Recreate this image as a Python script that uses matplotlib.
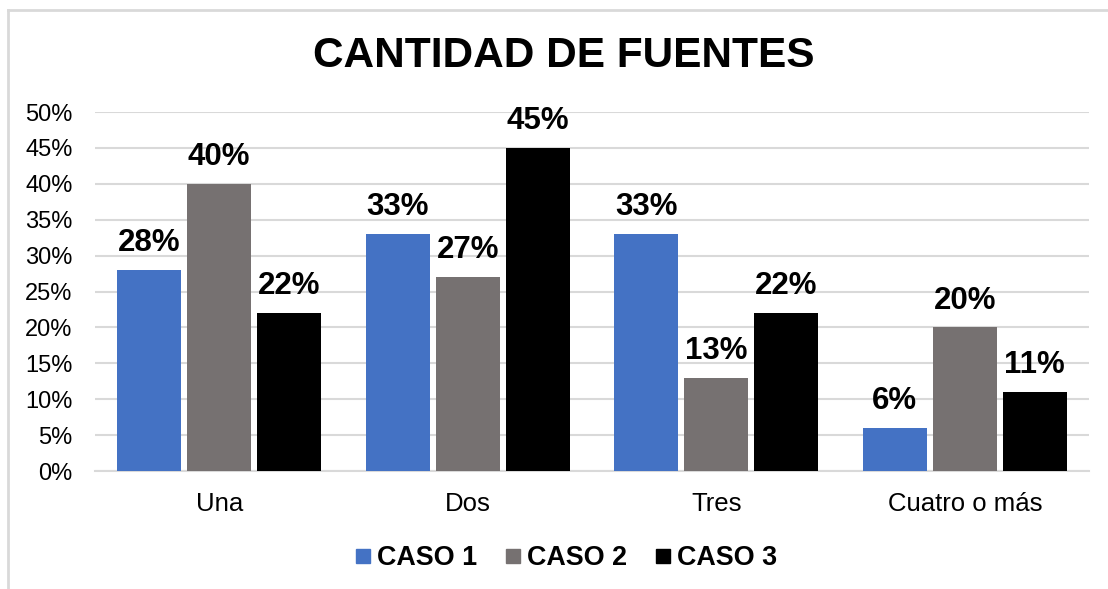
import numpy as np
import matplotlib
matplotlib.use('Agg')
import matplotlib.pyplot as plt
from matplotlib.lines import Line2D

plt.rcParams['font.family'] = ['Liberation Sans', 'DejaVu Sans']

categorias = ["Una", "Dos", "Tres", "Cuatro o más"]
series = ["CASO 1", "CASO 2", "CASO 3"]
caso1 = [28, 33, 33, 6]
caso2 = [40, 27, 13, 20]
caso3 = [22, 45, 22, 11]
colores = ["#4472C4", "#767171", "#000000"]
titulo = "CANTIDAD DE FUENTES"

fig = plt.figure(figsize=(11.08, 5.89), dpi=100)
ax = fig.add_axes([0.0857, 0.2003, 0.8972, 0.6095])

x = np.arange(len(categorias))
ancho = 0.257
paso = 0.282
grid_col = "#D9D9D9"

for i, (vals, nombre) in enumerate(zip([caso1, caso2, caso3], series)):
    pos = x + (i - 1) * paso
    ax.bar(pos, vals, width=ancho, color=colores[i], label=nombre, zorder=3)
    for xp, v in zip(pos, vals):
        ax.annotate(f"{v}%", (xp, v), xytext=(0, 13.5), textcoords="offset points",
                    ha="center", va="baseline", fontsize=22.5, fontweight="bold")

ax.set_ylim(0, 50)
ax.set_xlim(-0.5, len(categorias) - 0.5)
ax.set_yticks(np.arange(0, 51, 5))
ax.set_yticklabels([f"{t}%" for t in range(0, 51, 5)], fontsize=17)
ax.set_xticks(x)
ax.set_xticklabels(categorias, fontsize=18.5)
ax.tick_params(axis="both", length=0)
ax.tick_params(axis="y", pad=16)
ax.tick_params(axis="x", pad=15)
ax.yaxis.grid(True, color=grid_col, linewidth=1.5, zorder=0)
for s in ["top", "right", "left"]:
    ax.spines[s].set_visible(False)
ax.spines["bottom"].set_color(grid_col)
ax.spines["bottom"].set_linewidth(1.5)

fig.text(0.509, 0.905, titulo, ha="center", va="center", fontsize=30.5, fontweight="bold")

handles = [Line2D([], [], marker="s", linestyle="none", markersize=10.5,
                  markerfacecolor=c, markeredgecolor=c) for c in colores]
leg = fig.legend(handles, series, loc="center", bbox_to_anchor=(0.511, 0.052), ncol=3,
                 frameon=False, handlelength=0.6, handletextpad=0.2, columnspacing=1.05,
                 prop={"size": 19.4, "weight": "bold"})

# borde del grafico
fig.add_artist(Line2D([8 / 1108, 1], [1 - 10 / 589, 1 - 10 / 589], color=grid_col,
                      linewidth=2, transform=fig.transFigure))
fig.add_artist(Line2D([8 / 1108, 8 / 1108], [0, 1 - 10 / 589], color=grid_col,
                      linewidth=2, transform=fig.transFigure))

plt.savefig("out.png", dpi=100)
